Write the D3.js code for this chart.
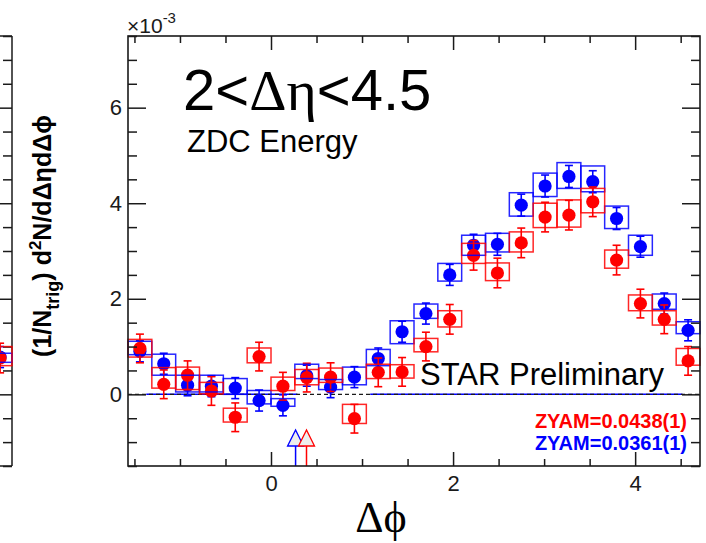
<!DOCTYPE html>
<html><head><meta charset="utf-8">
<script src="https://cdn.jsdelivr.net/npm/d3@7"></script>
<style>html,body{margin:0;padding:0;background:#fff;} svg{display:block}</style>
</head><body>
<svg id="chart" width="706" height="543"></svg>
<script>
// Associated yield per trigger vs Δφ, 24 bins over [-π/2, 3π/2], values in units of 1e-3
const nBins = 24;

const redValues   = [0.96, 0.21, 0.40, 0.07, -0.48, 0.79, 0.17, 0.35, 0.36, -0.51, 0.46, 0.47,
                     1.00, 1.57, 2.91, 2.54, 3.17, 3.71, 3.75, 4.03, 2.81, 1.90, 1.57, 0.70];
const redStat     = [0.30, 0.30, 0.30, 0.30, 0.30, 0.30, 0.29, 0.30, 0.30, 0.30, 0.30, 0.30,
                     0.30, 0.31, 0.31, 0.31, 0.31, 0.31, 0.31, 0.31, 0.31, 0.30, 0.30, 0.30];
const redSysLow   = [0.78, 0.13, 0.10, 0.01, -0.58, 0.66, 0.08, 0.20, 0.25, -0.61, 0.33, 0.34,
                     0.89, 1.41, 2.74, 2.38, 2.98, 3.49, 3.50, 3.80, 2.64, 1.75, 1.45, 0.61];
const redSysHigh  = [1.15, 0.56, 0.57, 0.25, -0.29, 0.97, 0.36, 0.52, 0.55, -0.21, 0.63, 0.62,
                     1.17, 1.75, 3.16, 2.75, 3.40, 4.00, 4.07, 4.31, 3.02, 2.08, 1.75, 0.96];

const blueValues  = [0.90, 0.64, 0.19, 0.17, 0.13, -0.13, -0.23, 0.39, 0.15, 0.36, 0.75, 1.31,
                     1.69, 2.50, 3.12, 3.14, 3.96, 4.36, 4.56, 4.45, 3.68, 3.09, 1.90, 1.34];
const blueStat    = [0.22, 0.22, 0.22, 0.22, 0.22, 0.22, 0.22, 0.22, 0.22, 0.22, 0.22, 0.22,
                     0.22, 0.22, 0.23, 0.23, 0.23, 0.23, 0.23, 0.23, 0.23, 0.22, 0.22, 0.22];
const blueSysLow  = [0.83, 0.40, 0.05, 0.05, 0.00, -0.20, -0.25, 0.33, 0.10, 0.20, 0.60, 1.06,
                     1.59, 2.37, 2.91, 2.98, 3.73, 4.14, 4.31, 4.24, 3.47, 2.91, 1.78, 1.27];
const blueSysHigh = [1.11, 0.84, 0.40, 0.40, 0.33, 0.08, -0.09, 0.63, 0.31, 0.57, 0.94, 1.54,
                     1.89, 2.74, 3.33, 3.37, 4.22, 4.63, 4.85, 4.78, 3.94, 3.33, 2.10, 1.52];

// Zero-level segments of the blue selection (Δφ ranges)
const blueZeroSegments = [[-1.37, 0.29], [1.09, 4.52]];

// ZYAM minimum positions (Δφ) and labels
const zyamPositions = [0.39, 0.27];          // red, blue
const zyamLabels = ["ZYAM=0.0438(1)", "ZYAM=0.0361(1)"];

// Neighbouring panel: only its last bin is visible
const leftBinIndex = [23];
const leftRed = [0.76], leftRedStat = [0.31], leftRedSysLow = [0.60], leftRedSysHigh = [1.00];
const leftBlue = [0.78], leftBlueStat = [0.22], leftBlueSysLow = [0.67], leftBlueSysHigh = [0.86];

// Axis ticks
const xMajorTicks = [0, 2, 4];
const yMajorTicks = [0, 2, 4, 6];

const RED = "#ff0000", BLUE = "#0000ff", INK = "#1a1a1a";
const SANS = "'Liberation Sans', Arial, Helvetica, sans-serif";
const SERIF = "'Liberation Serif', 'Times New Roman', serif";

const svg = d3.select("#chart");
const frame = {left: 128, right: 700, top: 36, bottom: 466};

const xDomain = [-Math.PI / 2, 3 * Math.PI / 2];
const x = d3.scaleLinear().domain(xDomain).range([frame.left, frame.right]);
const y = d3.scaleLinear().domain([-1.5, 7.5]).range([frame.bottom, frame.top]);
const binW = (xDomain[1] - xDomain[0]) / nBins;
const binLo = i => xDomain[0] + i * binW;
const binMid = i => xDomain[0] + (i + 0.5) * binW;

const xMinor = d3.range(-1.5, 4.51, 0.5).filter(v => !xMajorTicks.includes(v));
const yMinor = d3.range(-1.5, 7.51, 0.5).filter(v => !yMajorTicks.includes(v));

function styleAxis(g) {
  g.select(".domain").remove();
  g.selectAll(".tick line").attr("stroke", INK).attr("stroke-width", 1.5);
  g.selectAll(".tick text").attr("fill", INK).attr("font-family", SANS).attr("font-size", 22);
}

// ---------- neighbouring panel (right edge only) ----------
const xl = d3.scaleLinear().domain(xDomain).range([12 - (frame.right - frame.left), 12]);
const leftG = svg.append("g");
leftG.append("line").attr("x1", 12).attr("x2", 12).attr("y1", frame.top).attr("y2", frame.bottom)
  .attr("stroke", INK).attr("stroke-width", 1.5);
leftG.append("line").attr("x1", -5).attr("x2", 12).attr("y1", frame.top).attr("y2", frame.top)
  .attr("stroke", INK).attr("stroke-width", 1.5);
leftG.append("line").attr("x1", -5).attr("x2", 12).attr("y1", frame.bottom).attr("y2", frame.bottom)
  .attr("stroke", INK).attr("stroke-width", 1.5);
leftG.append("g").attr("transform", "translate(12,0)")
  .call(d3.axisRight(y).tickValues(yMajorTicks).tickSize(-18).tickFormat("")).call(styleAxis);
leftG.append("g").attr("transform", "translate(12,0)")
  .call(d3.axisRight(y).tickValues(yMinor).tickSize(-9).tickFormat("")).call(styleAxis);

function drawSeries(g, xs, bins, vals, stat, lo, hi, color, part) {
  const d = bins.map((b, k) => ({b, v: vals[k], e: stat[k], lo: lo[k], hi: hi[k]}));
  if (part === "points") {
    const eb = g.append("g").attr("stroke", color).attr("stroke-width", 1.6);
    eb.selectAll("line.v").data(d).join("line")
      .attr("x1", p => xs(binMid(p.b))).attr("x2", p => xs(binMid(p.b)))
      .attr("y1", p => y(p.v - p.e)).attr("y2", p => y(p.v + p.e));
    eb.selectAll("line.t").data(d).join("line")
      .attr("x1", p => xs(binMid(p.b)) - 4).attr("x2", p => xs(binMid(p.b)) + 4)
      .attr("y1", p => y(p.v + p.e)).attr("y2", p => y(p.v + p.e));
    eb.selectAll("line.bm").data(d).join("line")
      .attr("x1", p => xs(binMid(p.b)) - 4).attr("x2", p => xs(binMid(p.b)) + 4)
      .attr("y1", p => y(p.v - p.e)).attr("y2", p => y(p.v - p.e));
    g.append("g").selectAll("circle").data(d).join("circle")
      .attr("cx", p => xs(binMid(p.b))).attr("cy", p => y(p.v)).attr("r", 6.6)
      .attr("fill", color);
  } else {
    g.append("g").selectAll("rect").data(d).join("rect")
      .attr("x", p => xs(binLo(p.b))).attr("width", p => xs(binLo(p.b) + binW) - xs(binLo(p.b)))
      .attr("y", p => y(p.hi)).attr("height", p => y(p.lo) - y(p.hi))
      .attr("fill", "none").attr("stroke", color).attr("stroke-width", 1.5).attr("stroke-opacity", 0.85);
  }
}
drawSeries(leftG, xl, leftBinIndex, leftBlue, leftBlueStat, leftBlueSysLow, leftBlueSysHigh, BLUE, "points");
drawSeries(leftG, xl, leftBinIndex, leftRed, leftRedStat, leftRedSysLow, leftRedSysHigh, RED, "points");
drawSeries(leftG, xl, leftBinIndex, leftBlue, leftBlueStat, leftBlueSysLow, leftBlueSysHigh, BLUE, "boxes");
drawSeries(leftG, xl, leftBinIndex, leftRed, leftRedStat, leftRedSysLow, leftRedSysHigh, RED, "boxes");

// ---------- main panel ----------
const plot = svg.append("g");
const bins = d3.range(nBins);

// zero reference
plot.append("g").selectAll("line").data(blueZeroSegments).join("line")
  .attr("x1", s => x(s[0])).attr("x2", s => x(s[1])).attr("y1", y(0)).attr("y2", y(0))
  .attr("stroke", BLUE).attr("stroke-width", 1.5);
plot.append("line").attr("x1", x(xDomain[0])).attr("x2", x(xDomain[1]))
  .attr("y1", y(0)).attr("y2", y(0))
  .attr("stroke", INK).attr("stroke-width", 1.4).attr("stroke-dasharray", "4,3");

drawSeries(plot, x, bins, blueValues, blueStat, blueSysLow, blueSysHigh, BLUE, "points");
drawSeries(plot, x, bins, redValues, redStat, redSysLow, redSysHigh, RED, "points");
drawSeries(plot, x, bins, blueValues, blueStat, blueSysLow, blueSysHigh, BLUE, "boxes");
drawSeries(plot, x, bins, redValues, redStat, redSysLow, redSysHigh, RED, "boxes");

// ZYAM markers (open arrows standing on the Δφ axis)
const zyamColors = [RED, BLUE];
const arrows = plot.append("g");
[1, 0].forEach(k => {
  const cx = x(zyamPositions[k]);
  arrows.append("line").attr("x1", cx).attr("x2", cx)
    .attr("y1", frame.bottom).attr("y2", frame.bottom - 20)
    .attr("stroke", zyamColors[k]).attr("stroke-width", 1.5);
  arrows.append("path")
    .attr("d", `M${cx - 8},${frame.bottom - 20} L${cx},${frame.bottom - 36} L${cx + 8},${frame.bottom - 20} Z`)
    .attr("fill", "#eeeeee").attr("stroke", zyamColors[k]).attr("stroke-width", 1.3);
});

// frame + axes
svg.append("rect").attr("x", frame.left).attr("y", frame.top)
  .attr("width", frame.right - frame.left).attr("height", frame.bottom - frame.top)
  .attr("fill", "none").attr("stroke", INK).attr("stroke-width", 1.6);

svg.append("g").attr("transform", `translate(0,${frame.bottom})`)
  .call(d3.axisBottom(x).tickValues(xMajorTicks).tickSize(-14).tickPadding(9).tickFormat(d3.format("d")))
  .call(styleAxis);
svg.append("g").attr("transform", `translate(0,${frame.bottom})`)
  .call(d3.axisBottom(x).tickValues(xMinor).tickSize(-7).tickFormat("")).call(styleAxis);
svg.append("g").attr("transform", `translate(0,${frame.top})`)
  .call(d3.axisTop(x).tickValues(xMajorTicks).tickSize(-14).tickFormat("")).call(styleAxis);
svg.append("g").attr("transform", `translate(0,${frame.top})`)
  .call(d3.axisTop(x).tickValues(xMinor).tickSize(-7).tickFormat("")).call(styleAxis);

svg.append("g").attr("transform", `translate(${frame.left},0)`)
  .call(d3.axisLeft(y).tickValues(yMajorTicks).tickSize(-18).tickPadding(6).tickFormat(d3.format("d")))
  .call(styleAxis);
svg.append("g").attr("transform", `translate(${frame.left},0)`)
  .call(d3.axisLeft(y).tickValues(yMinor).tickSize(-9).tickFormat("")).call(styleAxis);
svg.append("g").attr("transform", `translate(${frame.right},0)`)
  .call(d3.axisRight(y).tickValues(yMajorTicks).tickSize(-18).tickFormat("")).call(styleAxis);
svg.append("g").attr("transform", `translate(${frame.right},0)`)
  .call(d3.axisRight(y).tickValues(yMinor).tickSize(-9).tickFormat("")).call(styleAxis);

// exponent label
const expo = svg.append("text").attr("x", frame.left - 1).attr("y", 33)
  .attr("font-family", SANS).attr("font-size", 21).attr("fill", INK);
expo.append("tspan").text("×10");
expo.append("tspan").attr("dy", -10).attr("font-size", 15).text("-3");

// titles inside the frame
const big = svg.append("text").attr("x", 183).attr("y", 110)
  .attr("font-family", SANS).attr("font-size", 58).attr("fill", "#000");
big.append("tspan").text("2<");
big.append("tspan").attr("font-family", SERIF).text("Δη");
big.append("tspan").text("<4.5");

svg.append("text").attr("x", 187).attr("y", 152)
  .attr("font-family", SANS).attr("font-size", 31).attr("fill", "#000").text("ZDC Energy");

svg.append("text").attr("x", 420).attr("y", 385)
  .attr("font-family", SANS).attr("font-size", 31).attr("fill", "#000").text("STAR Preliminary");

svg.append("text").attr("x", 687).attr("y", 428).attr("text-anchor", "end")
  .attr("font-family", SANS).attr("font-weight", "bold").attr("font-size", 20)
  .attr("fill", RED).text(zyamLabels[0]);
svg.append("text").attr("x", 687).attr("y", 450).attr("text-anchor", "end")
  .attr("font-family", SANS).attr("font-weight", "bold").attr("font-size", 20)
  .attr("fill", BLUE).text(zyamLabels[1]);

// axis titles
svg.append("text").attr("x", 381).attr("y", 532).attr("text-anchor", "middle")
  .attr("font-family", SERIF).attr("font-size", 44).attr("fill", "#000").text("Δϕ");

const yt = svg.append("text").attr("transform", "translate(51,236) rotate(-90)")
  .attr("text-anchor", "middle").attr("font-family", SANS).attr("font-weight", "bold")
  .attr("font-size", 25).attr("fill", "#000");
yt.append("tspan").text("(1/N");
yt.append("tspan").attr("dy", 8).attr("font-size", 18).text("trig");
yt.append("tspan").attr("dy", -8).text(") d");
yt.append("tspan").attr("dy", -10).attr("font-size", 17).text("2");
yt.append("tspan").attr("dy", 10).text("N/dΔηdΔϕ");
</script>
</body></html>
